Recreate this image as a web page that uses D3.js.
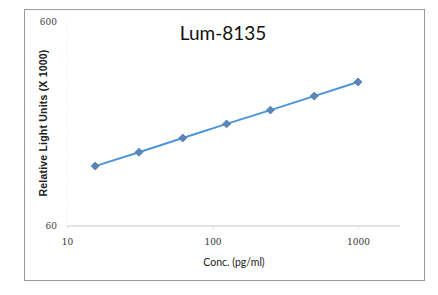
<!DOCTYPE html>
<html>
<head>
<meta charset="utf-8">
<script src="https://cdn.jsdelivr.net/npm/d3@7"></script>
<style>
  body { margin: 0; background: #fff; }
</style>
</head>
<body>
<script>
// data
const conc = [15.625, 31.25, 62.5, 125, 250, 500, 1000]
const rlu = [118, 138, 162, 190, 222, 260, 305]
const xTicks = [10, 100, 1000]
const yTicks = [60, 600]

const WIDTH = 438
const HEIGHT = 295
const LEFT = 67 // position de 10 sur l'axe x
const DECADE = 145.5 // largeur d'une decade
const BOTTOM = 226
const TOP = 22

const svg = d3.select('body').append('svg').attr('width', WIDTH).attr('height', HEIGHT)

// cadre gris
svg.append('rect')
    .attr('x', 24.5).attr('y', 9.5)
    .attr('width', 400).attr('height', 271)
    .attr('fill', '#fff')
    .attr('stroke', '#9a9a9a')
    .attr('stroke-width', 1)

const xScale = d3.scaleLog()
    .domain([10, 1000])
    .range([LEFT, LEFT + 2 * DECADE])

const yScale = d3.scaleLog()
    .domain([60, 600])
    .range([BOTTOM, TOP])

// axe y (tres pale)
svg.append('line')
    .attr('x1', LEFT).attr('x2', LEFT)
    .attr('y1', TOP).attr('y2', BOTTOM)
    .attr('stroke', '#ececec')
    .attr('stroke-dasharray', '1,2')

// axe x
const axisX = d3.axisBottom(xScale)
    .tickValues(xTicks)
    .tickFormat(d3.format('d'))
    .tickSize(3)
    .tickPadding(10)
const gx = svg.append('g')
    .attr('transform', `translate(0, ${BOTTOM})`)
    .call(axisX)
gx.select('.domain').remove()
gx.append('line')
    .attr('x1', LEFT).attr('x2', 400)
    .attr('stroke', '#c8c8c8')
gx.selectAll('.tick line').attr('stroke', '#e4e4e4')
gx.selectAll('.tick text')
    .attr('fill', '#333')
    .attr('font-family', 'DejaVu Serif, serif')
    .attr('font-size', 9)

const axisY = d3.axisLeft(yScale)
    .tickValues(yTicks)
    .tickFormat(d3.format('d'))
    .tickSize(0)
    .tickPadding(10)
const gy = svg.append('g')
    .attr('transform', `translate(${LEFT}, 0)`)
    .call(axisY)
gy.select('.domain').remove()
gy.selectAll('.tick text')
    .attr('fill', '#444')
    .attr('font-family', 'DejaVu Serif, serif')
    .attr('font-size', 9)

// la courbe
const pts = conc.map((c, i) => [c, rlu[i]])
const line = d3.line()
    .x(d => xScale(d[0]))
    .y(d => yScale(d[1]))
svg.append('path')
    .datum(pts)
    .attr('d', line)
    .attr('fill', 'none')
    .attr('stroke', '#4d94dc')
    .attr('stroke-width', 2)

svg.selectAll('.pt')
    .data(pts)
    .enter()
    .append('path')
    .attr('class', 'pt')
    .attr('d', d3.symbol().type(d3.symbolDiamond2).size(40))
    .attr('transform', d => `translate(${xScale(d[0])}, ${yScale(d[1])})`)
    .attr('fill', '#5c86b8')
    .attr('stroke', '#4a73a5')
    .attr('stroke-width', 0.8)

// titres
svg.append('text')
    .attr('x', 223).attr('y', 40)
    .attr('text-anchor', 'middle')
    .attr('font-family', 'Lato, sans-serif')
    .attr('font-size', 19)
    .attr('fill', '#111')
    .text('Lum-8135')

svg.append('text')
    .attr('transform', 'translate(47, 123) rotate(-90)')
    .attr('text-anchor', 'middle')
    .attr('font-family', 'Liberation Sans, sans-serif')
    .attr('font-weight', 'bold')
    .attr('font-size', 10.5)
    .attr('letter-spacing', 0.2)
    .attr('fill', '#222')
    .text('Relative Light Units (X 1000)')

svg.append('text')
    .attr('x', 234).attr('y', 266)
    .attr('text-anchor', 'middle')
    .attr('font-family', 'Lato, sans-serif')
    .attr('font-size', 10.5)
    .attr('fill', '#222')
    .text('Conc. (pg/ml)')
</script>
</body>
</html>
